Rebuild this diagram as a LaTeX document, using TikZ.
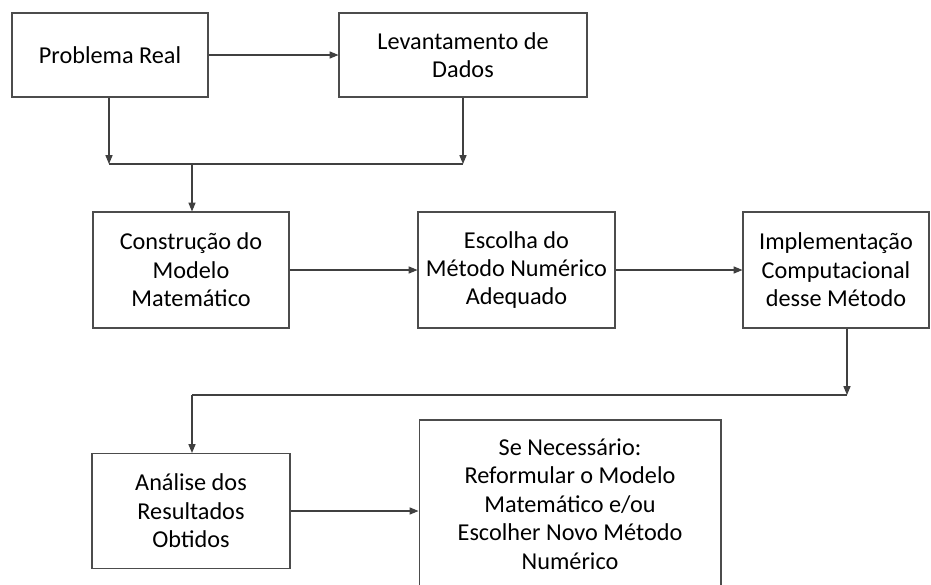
\documentclass[tikz,border=0pt]{standalone}
\usepackage{fontspec}
\setmainfont{Carlito}
\usetikzlibrary{arrows.meta}

\tikzset{
  caixa/.style={draw=black!70, line width=0.6pt, align=center, inner sep=0pt,
    font=\fontsize{13.8}{16.2}\selectfont},
  linha/.style={draw=black!75, line width=0.6pt},
  seta/.style={linha, -{Triangle[length=5pt,width=4pt]}}
}

\begin{document}
\begin{tikzpicture}[x=0.02cm,y=-0.02cm]
						\useasboundingbox (0,0) rectangle (931,585);
						\clip (0,0) rectangle (931,585);
						\path (110,55) node[caixa, minimum width=3.92cm, minimum height=1.68cm] (v0) {Problema Real};
						\path (463,55) node[caixa, minimum width=4.96cm, minimum height=1.68cm] (v1) {Levantamento de\\Dados};
						\path (191,270) node[caixa, minimum width=3.92cm, minimum height=2.32cm] (v2) {Construção do\\Modelo\\Matemático};
						\path (516.5,270) node[caixa, minimum width=3.94cm, minimum height=2.32cm] (v3) {Escolha do\\Método Numérico\\Adequado};
						\path (836,270) node[caixa, minimum width=3.72cm, minimum height=2.32cm] (v4) {Implementação\\Computacional\\desse Método};
						\path (191,511) node[caixa, minimum width=3.96cm, minimum height=2.3cm] (v5) {Análise dos\\Resultados\\Obtidos};
						\path (570,504) node[caixa, minimum width=6.04cm, minimum height=3.36cm] (v6) {Se Necessário:\\Reformular o Modelo\\Matemático e/ou\\Escolher Novo Método\\Numérico};
						\coordinate (j0) at (192,164);
						\coordinate (j1) at (109,164);
						\coordinate (j2) at (463,164);
						\coordinate (j3) at (847,395);
						\coordinate (j4) at (192,395);
						\draw[seta] (v0) -- (v1);
						\draw[seta] (v0.south -| j1) -- (j1);
						\draw[seta] (v1.south -| j2) -- (j2);
						\draw[linha] (j1) -- (j2);
						\draw[seta] (j0) -- (j0 |- v2.north);
						\draw[seta] (v2) -- (v3);
						\draw[seta] (v3) -- (v4);
						\draw[seta] (v4.south -| j3) -- (j3);
						\draw[linha] (j3) -- (j4);
						\draw[seta] (j4) -- (j4 |- v5.north);
						\draw[seta] (v5.east) -- (v5.east -| v6.west);
					\end{tikzpicture}
\end{document}
